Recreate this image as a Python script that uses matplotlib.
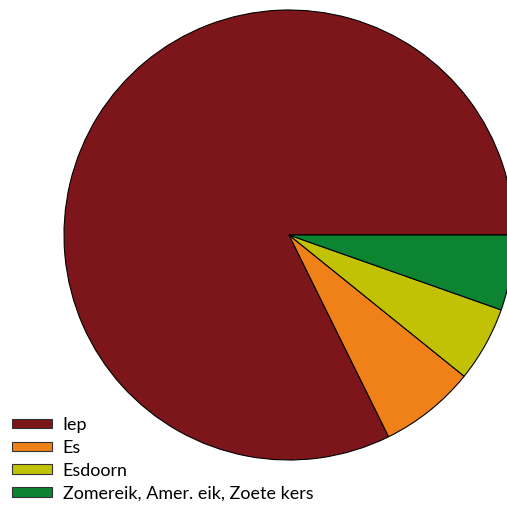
import matplotlib
matplotlib.use("Agg")
import matplotlib.pyplot as plt
from matplotlib.patches import Patch

labels = ["Iep", "Es", "Esdoorn", "Zomereik, Amer. eik, Zoete kers"]
values = [82.3, 6.9, 5.4, 5.4]
colors = ["#7D161A", "#F08119", "#C2C205", "#0C8431"]

W, H = 507, 505
fig = plt.figure(figsize=(W / 100, H / 100), dpi=100)
cx, cy, r = 289, 235, 225
ax = fig.add_axes([(cx - r) / W, (H - cy - r) / H, 2 * r / W, 2 * r / H])
ax.pie(values, colors=colors, startangle=0, counterclock=True, radius=1,
       wedgeprops=dict(edgecolor="black", linewidth=0.8))
ax.set_xlim(-1, 1)
ax.set_ylim(-1, 1)
ax.set_aspect("equal")
ax.axis("off")
for p in ax.patches:
    p.set_clip_on(False)

handles = [Patch(facecolor=c, edgecolor="#333333", linewidth=0.8) for c in colors]
fs = 12.9
leg = fig.legend(handles, labels, loc="upper left",
                 bbox_to_anchor=(12 / W, (H - 417) / H),
                 frameon=False, handlelength=40 / (fs * 100 / 72), handleheight=0.45,
                 handletextpad=0.6, labelspacing=0.38, borderaxespad=0, borderpad=0,
                 prop={"family": "Lato", "size": fs})
fig.savefig("out.png", dpi=100)
